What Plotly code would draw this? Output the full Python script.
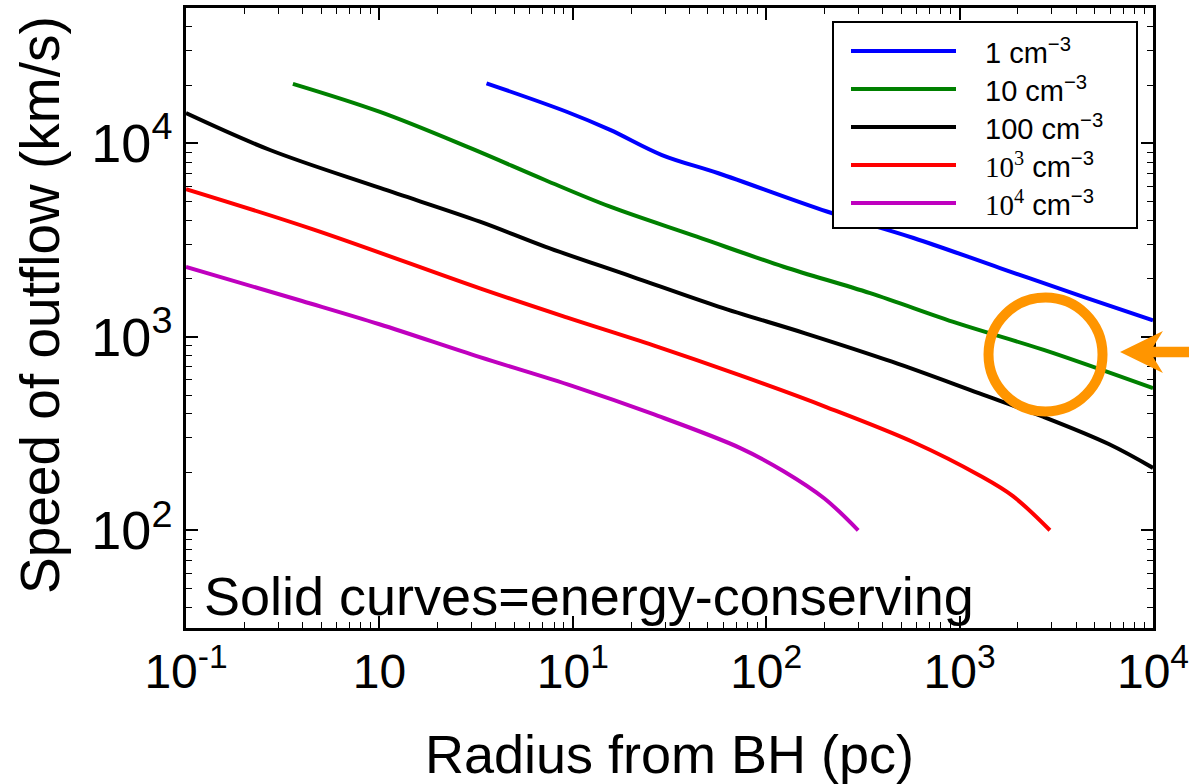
import plotly.graph_objects as go

# Outflow speed versus radius for five ambient densities (energy-conserving case)
r_n1 = [3.58, 9.29, 15.6, 28.9, 56.6, 206, 578, 1618, 4560, 10000]
v_n1 = [20400, 14550, 11720, 8690, 7000, 4440, 3240, 2265, 1585, 1216]

r_n10 = [0.357, 1.007, 2.94, 7.18, 15.6, 43.8, 123, 345, 971, 2723, 10000]
v_n10 = [20280, 14520, 9460, 6457, 4699, 3289, 2301, 1679, 1175, 855, 542]

r_n100 = [0.1, 0.272, 1.007, 3.31, 7.18, 20.2, 56.6, 159, 447, 1256, 2723, 5902, 10000]
v_n100 = [14320, 9230, 5875, 3936, 2924, 2046, 1432, 1042, 743, 511, 385, 279, 210]

r_n1e3 = [0.1, 0.454, 3.31, 9.29, 26.1, 73.5, 206, 578, 1256, 1888, 2931]
v_n1e3 = [5794, 3589, 1778, 1259, 902, 631, 432, 285, 193, 150, 100]

r_n1e4 = [0.1, 0.398, 1.0, 3.31, 10.0, 26.1, 73.5, 123, 200, 299]
v_n1e4 = [2296, 1531, 1161, 785, 556, 398, 266, 202, 146, 100]

series_names = [
    "1 cm<sup>−3</sup>",
    "10 cm<sup>−3</sup>",
    "100 cm<sup>−3</sup>",
    "<span style='font-family:Liberation Serif'>10<sup>3</sup></span> cm<sup>−3</sup>",
    "<span style='font-family:Liberation Serif'>10<sup>4</sup></span> cm<sup>−3</sup>",
]
series_colors = ["#0000FF", "#008000", "#000000", "#FF0000", "#BF00BF"]
series_r = [r_n1, r_n10, r_n100, r_n1e3, r_n1e4]
series_v = [v_n1, v_n10, v_n100, v_n1e3, v_n1e4]

x_tickvals = [0.1, 1, 10, 100, 1000, 10000]
x_ticktext = ["10<sup>-1</sup>", "10", "10<sup>1</sup>", "10<sup>2</sup>",
              "10<sup>3</sup>", "10<sup>4</sup>"]
y_tickvals = [100, 1000, 10000]
y_ticktext = ["10<sup>2</sup>", "10<sup>3</sup>", "10<sup>4</sup>"]

x_minor = [k * 10 ** e for e in range(-1, 4) for k in range(2, 10)]
y_minor = [k * 10 ** e for e in range(1, 5) for k in range(2, 10)]

FONT = "Liberation Sans, Arial, sans-serif"
ORANGE = "#FF9500"

# plot-area geometry in pixels, used to place the hand-drawn legend box
L, R, T, B = 186, 1153, 8, 628


def px_x(p):
    return (p - L) / (R - L)


def px_y(p):
    return (B - p) / (B - T)


fig = go.Figure()
for name, color, r, v in zip(series_names, series_colors, series_r, series_v):
    fig.add_trace(go.Scatter(
        x=r, y=v, mode="lines", name=name, showlegend=False,
        line=dict(color=color, width=4, shape="spline", smoothing=1.0),
    ))

axis_common = dict(
    type="log", showgrid=False, zeroline=False, automargin=False,
    showline=True, linecolor="black", linewidth=2.5, mirror="ticks",
    ticks="inside", ticklen=12, tickwidth=1.5, tickcolor="black",
    ticklabeloverflow="allow",
    minor=dict(ticks="inside", ticklen=6, tickwidth=1.2, tickcolor="black", showgrid=False),
)

fig.update_xaxes(
    **axis_common,
    range=[-1, 4],
    tickvals=x_tickvals, ticktext=x_ticktext,
    tickfont=dict(family=FONT, size=48, color="black"),
    title=dict(text="Radius from BH (pc)", font=dict(family=FONT, size=54, color="black"),
               standoff=38),
)
fig.update_xaxes(minor_tickvals=x_minor)

fig.update_yaxes(
    **axis_common,
    range=[1.495, 4.699],
    tickvals=y_tickvals, ticktext=y_ticktext,
    tickfont=dict(family=FONT, size=54, color="black"),
)
fig.update_yaxes(minor_tickvals=y_minor)

# y-axis title
fig.add_annotation(
    text="Speed of outflow (km/s)", xref="paper", yref="paper",
    x=px_x(40), y=px_y(305), xanchor="center", yanchor="middle",
    textangle=-90, showarrow=False,
    font=dict(family=FONT, size=55, color="black"),
)

# Legend: framed box with line samples and labels
fig.add_shape(type="rect", xref="paper", yref="paper",
              x0=px_x(833), x1=px_x(1137), y0=px_y(228), y1=px_y(22),
              fillcolor="white", line=dict(color="black", width=2), layer="above")
legend_rows = [51, 89, 127, 165, 203]
for name, color, yrow in zip(series_names, series_colors, legend_rows):
    fig.add_shape(type="line", xref="paper", yref="paper",
                  x0=px_x(851), x1=px_x(956), y0=px_y(yrow), y1=px_y(yrow),
                  line=dict(color=color, width=4), layer="above")
    fig.add_annotation(
        text=name, xref="paper", yref="paper",
        x=px_x(983), y=px_y(yrow), xanchor="left", yanchor="middle",
        showarrow=False, font=dict(family=FONT, size=29, color="black"),
    )

# Highlight ring and pointer on the right edge
fig.add_shape(type="circle", xref="paper", yref="paper",
              x0=0.8299, x1=0.9478, y0=0.3492, y1=0.5331,
              line=dict(color=ORANGE, width=10), layer="above")
fig.add_shape(type="path", xref="paper", yref="paper",
              path=("M0.9659,0.4452 L1.0103,0.4790 L1.0003,0.4537 L1.0434,0.4537 "
                    "L1.0434,0.4366 L1.0003,0.4366 L1.0103,0.4113 Z"),
              fillcolor=ORANGE, line=dict(width=0), layer="above")

fig.add_annotation(
    text="Solid curves=energy-conserving", xref="paper", yref="paper",
    x=px_x(202), y=0.0, xanchor="left", yanchor="bottom", showarrow=False,
    font=dict(family=FONT, size=54, color="black"),
)

fig.update_layout(
    width=1189, height=784,
    margin=dict(l=L, r=1189 - R, t=T, b=784 - B),
    paper_bgcolor="white", plot_bgcolor="white",
    font=dict(family=FONT, color="black"),
    showlegend=False,
)

fig.write_html("out.html")
